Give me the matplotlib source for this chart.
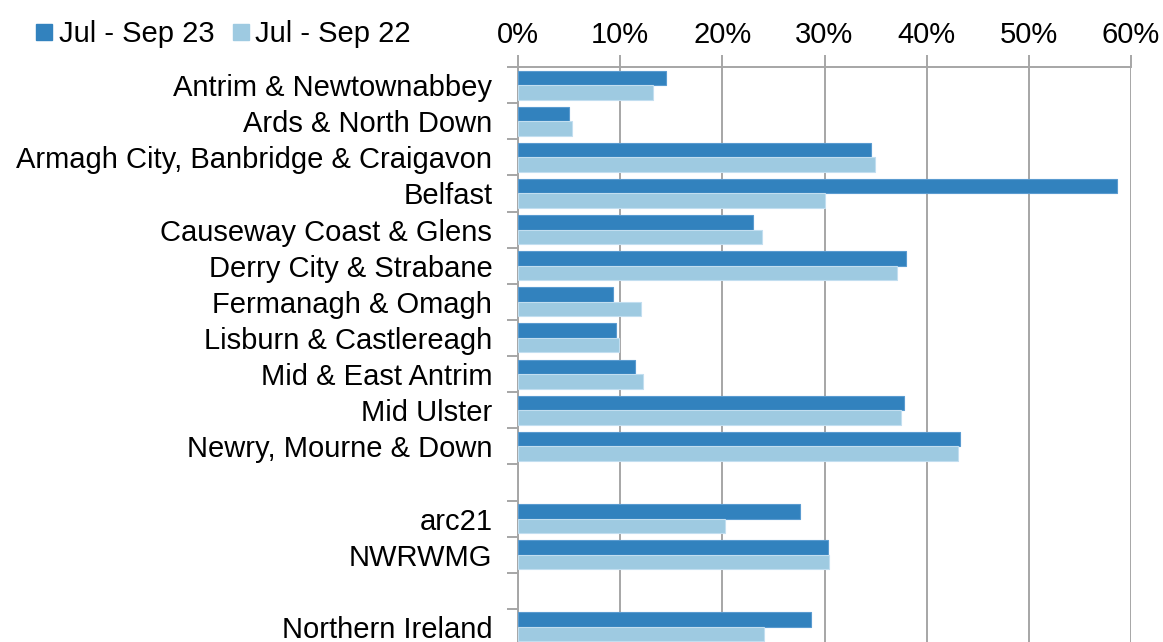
import numpy as np
import matplotlib
matplotlib.use('Agg')
import matplotlib.pyplot as plt
from matplotlib.lines import Line2D

plt.rcParams['font.family'] = ['Liberation Sans', 'DejaVu Sans']

# blank entries are the gaps between the groups of areas
areas = ['Antrim & Newtownabbey', 'Ards & North Down',
         'Armagh City, Banbridge & Craigavon', 'Belfast',
         'Causeway Coast & Glens', 'Derry City & Strabane',
         'Fermanagh & Omagh', 'Lisburn & Castlereagh', 'Mid & East Antrim',
         'Mid Ulster', 'Newry, Mourne & Down', '',
         'arc21', 'NWRWMG', '',
         'Northern Ireland']
sep23 = [14.5, 5.0, 34.6, 58.6, 23.0, 38.0, 9.3, 9.6, 11.5, 37.8, 43.3, np.nan,
         27.6, 30.3, np.nan, 28.7]
sep22 = [13.2, 5.3, 34.9, 30.0, 23.9, 37.1, 12.0, 9.9, 12.2, 37.5, 43.1, np.nan,
         20.3, 30.4, np.nan, 24.1]
series = ['Jul - Sep 23', 'Jul - Sep 22']
colours = ['#3282be', '#9ecae1']
edges = ['#5a9bd0', '#c2def0']
fs = 21

fig = plt.figure(figsize=(11.63, 6.42), dpi=100)
ax = fig.add_axes([518/1163, -3/642, (1131-518)/1163, (645-67)/642])

y = np.arange(len(areas))
h = 0.4
ax.barh(y - h/2, sep23, height=h, color=colours[0], edgecolor=edges[0], linewidth=0.8, zorder=3)
ax.barh(y + h/2, sep22, height=h, color=colours[1], edgecolor=edges[1], linewidth=0.8, zorder=3)

ax.set_xlim(0, 60)
ax.set_ylim(len(areas) - 0.5, -0.5)
ax.xaxis.tick_top()
ax.set_xticks(np.arange(0, 61, 10))
ax.set_xticklabels(['%d%%' % v for v in range(0, 61, 10)])
ax.grid(axis='x', color='#a6a6a6', linewidth=1.4, zorder=0)

ax.set_yticks(y)
ax.set_yticklabels(areas)
ax.set_yticks(np.arange(-0.5, len(areas), 1), minor=True)
ax.tick_params(axis='y', which='major', length=0, pad=18.5, labelsize=fs)
ax.tick_params(axis='y', which='minor', length=8, width=1.4, color='#a6a6a6')
ax.tick_params(axis='x', length=9, width=1.4, color='#a6a6a6', pad=4, labelsize=fs)

for side in ['right', 'bottom']:
    ax.spines[side].set_visible(False)
for side in ['top', 'left']:
    ax.spines[side].set_color('#a6a6a6')
    ax.spines[side].set_linewidth(1.4)

handles = [Line2D([], [], marker='s', linestyle='', markersize=11.5,
                  markerfacecolor=c, markeredgecolor=c) for c in colours]
fig.legend(handles, series, loc='center left', bbox_to_anchor=(24/1163, 1 - 34/642),
           ncol=2, frameon=False, fontsize=fs, handlelength=0.6,
           handletextpad=0.2, columnspacing=0.6, borderaxespad=0)

fig.savefig('out.png', dpi=100)
